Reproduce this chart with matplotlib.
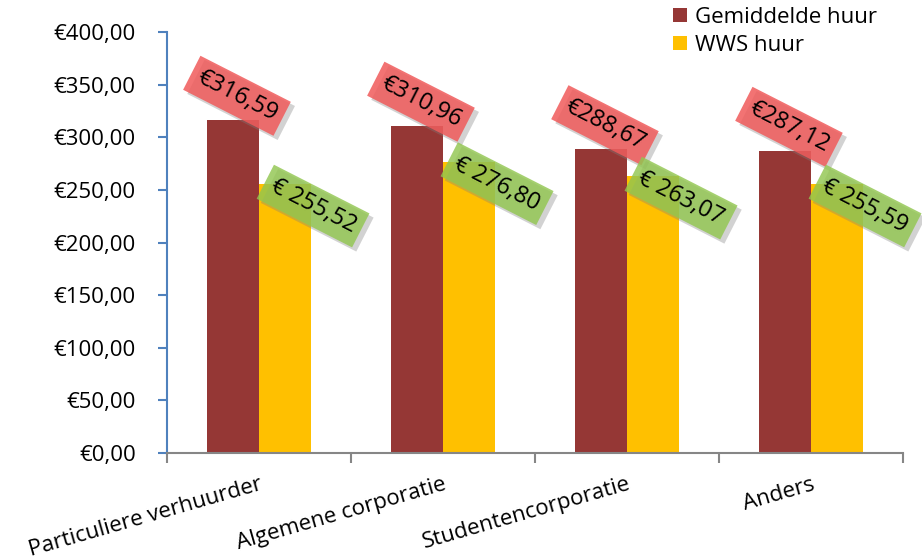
import matplotlib
matplotlib.use("Agg")
import matplotlib.pyplot as plt
import matplotlib.patheffects as pe
import numpy as np

categories = ["Particuliere verhuurder", "Algemene corporatie", "Studentencorporatie", "Anders"]
gemiddelde = [316.59, 310.96, 288.67, 287.12]
wws = [255.52, 276.80, 263.07, 255.59]
series_names = ["Gemiddelde huur", "WWS huur"]
yticks = [0, 50, 100, 150, 200, 250, 300, 350, 400]

plt.rcParams['font.family'] = ['Open Sans', 'DejaVu Sans']

def eur(v):
    return "€" + f"{v:.2f}".replace(".", ",")

W, H = 922, 559
fig = plt.figure(figsize=(W/100, H/100), dpi=100)
ax = fig.add_axes([167/W, 1 - 453/H, (903-167)/W, (453-32)/H])

x = np.arange(len(categories))
w = 0.283
red = "#953735"
yellow = "#FFC000"
b1 = ax.bar(x - w/2, gemiddelde, w, color=red, label=series_names[0], zorder=2)
b2 = ax.bar(x + w/2, wws, w, color=yellow, label=series_names[1], zorder=2)

ax.set_xlim(-0.5, len(categories) - 0.5)
ax.set_ylim(0, 400)
ax.set_yticks(yticks)
ax.set_yticklabels([eur(v) for v in yticks], fontsize=16)
ax.tick_params(axis='y', direction='out', length=6.5, color="#4F81BD", width=1.5, pad=16)

ax.set_xticks(np.arange(-0.5, len(categories)), minor=True)
ax.set_xticks(x)
ax.set_xticklabels(categories, rotation=16, ha='right', rotation_mode='anchor', fontsize=16)
ax.tick_params(axis='x', which='major', length=0, pad=15)
ax.tick_params(axis='x', which='minor', length=7, color="#868686", width=1.5, direction='out')

for s in ['top', 'right']:
    ax.spines[s].set_visible(False)
ax.spines['left'].set_color("#4F81BD")
ax.spines['left'].set_linewidth(1.5)
ax.spines['bottom'].set_color("#868686")
ax.spines['bottom'].set_linewidth(1.5)

shadow = [pe.withSimplePatchShadow(offset=(3, -3), shadow_rgbFace='gray', alpha=0.35)]

for xi, v in zip(x, gemiddelde):
    t = ax.annotate(eur(v), xy=(xi - w/2, v), xytext=(4, 24), textcoords='offset pixels',
                    ha='center', va='center', rotation=-27, fontsize=17, zorder=5,
                    bbox=dict(boxstyle='square,pad=0.3', fc='#F05A5A', ec='none', alpha=0.85))
    t.get_bbox_patch().set_path_effects(shadow)

for xi, v in zip(x, wws):
    t = ax.annotate("€ " + eur(v)[1:], xy=(xi + w/2, v), xytext=(28, -22), textcoords='offset pixels',
                    ha='center', va='center', rotation=-27, fontsize=17, zorder=5,
                    bbox=dict(boxstyle='square,pad=0.3', fc='#92C650', ec='none', alpha=0.82))
    t.get_bbox_patch().set_path_effects(shadow)

fig.legend(handles=[b1, b2], labels=series_names, loc='upper left',
           bbox_to_anchor=(673/W, 1 - 7/H), frameon=False, fontsize=16,
           handlelength=0.63, handleheight=0.63, handletextpad=0.35, labelspacing=0.3,
           borderaxespad=0, borderpad=0)

fig.savefig("out.png", dpi=100)
